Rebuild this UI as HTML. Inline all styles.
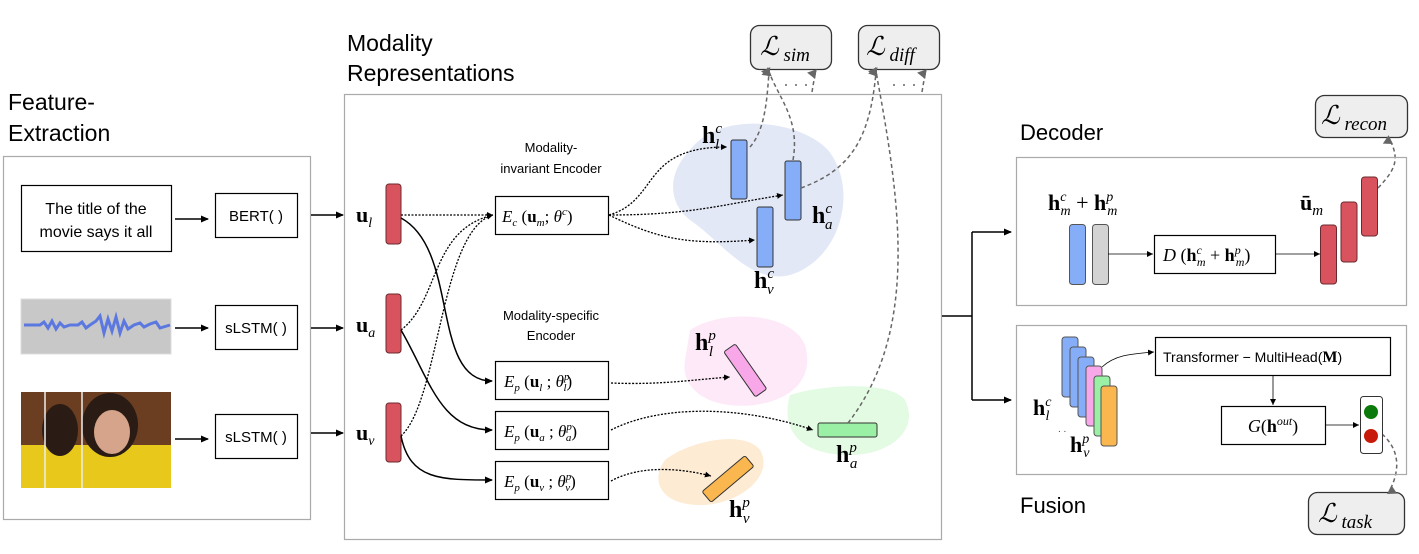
<!DOCTYPE html>
<html><head><meta charset="utf-8"><style>
body{margin:0;background:#fff}
svg{display:block}
text{font-family:"Liberation Sans",sans-serif}
.m,.m *{font-family:"Liberation Serif",serif}
</style></head><body>
<svg width="1419" height="554" viewBox="0 0 1419 554" xmlns="http://www.w3.org/2000/svg">
<defs>
<marker id="a" markerWidth="8" markerHeight="8" refX="7" refY="4" orient="auto" markerUnits="userSpaceOnUse"><path d="M0,0.5 L8,4 L0,7.5z" fill="#000"/></marker>
<marker id="g" markerWidth="10" markerHeight="10" refX="5" refY="9" orient="auto-start-reverse" markerUnits="userSpaceOnUse"><path d="M0,0 L5,9 L10,0z" fill="#666" transform="rotate(180 5 5)"/></marker>
<marker id="s" markerWidth="6" markerHeight="6" refX="6" refY="3" orient="auto" markerUnits="userSpaceOnUse"><path d="M0,0 L6,3 L0,6z" fill="#000"/></marker>
</defs>

<text x="8" y="110" font-size="23">Feature-</text>
<text x="8" y="141" font-size="23">Extraction</text>
<text x="347" y="51" font-size="23">Modality</text>
<text x="347" y="81" font-size="23">Representations</text>
<text x="1020" y="140" font-size="22">Decoder</text>
<text x="1020" y="513" font-size="22">Fusion</text>

<rect x="3.5" y="156.5" width="307" height="363" fill="none" stroke="#aaa" stroke-width="1.2"/>
<rect x="21.5" y="185.5" width="150" height="66" fill="#fff" stroke="#000" stroke-width="1.2"/>
<text x="96" y="214" font-size="16" text-anchor="middle">The title of the</text>
<text x="96" y="237" font-size="16" text-anchor="middle">movie says it all</text>
<rect x="21" y="299" width="150" height="55" fill="#c8c8c8" stroke="#ddd"/>
<path d="M24,325 L40,325 L44,322 L48,328 L52,321 L56,329 L60,323 L64,327 L70,325 L78,325 L82,322 L86,328 L90,325 L96,321 L100,316 L104,333 L108,319 L112,331 L116,317 L120,333 L124,321 L128,329 L134,325 L140,323 L144,327 L150,324 L156,322 L160,328 L170,325" fill="none" stroke="#5b78e0" stroke-width="3"/>
<rect x="21" y="392" width="150" height="96" fill="#6b3e22"/>
<rect x="21" y="445" width="150" height="43" fill="#e8c81a"/>
<ellipse cx="60" cy="430" rx="18" ry="26" fill="#2a1c14"/>
<ellipse cx="110" cy="425" rx="28" ry="32" fill="#2a1c14"/>
<ellipse cx="112" cy="432" rx="18" ry="22" fill="#d6a48a"/>
<line x1="45" y1="392" x2="45" y2="488" stroke="#eee" stroke-width="1.5"/>
<line x1="82" y1="392" x2="82" y2="488" stroke="#eee" stroke-width="1.5"/>
<rect x="215.5" y="193.5" width="82" height="44" fill="#fff" stroke="#000" stroke-width="1.2"/>
<text x="256" y="221" font-size="15" text-anchor="middle">BERT( )</text>
<rect x="215.5" y="305.5" width="82" height="44" fill="#fff" stroke="#000" stroke-width="1.2"/>
<text x="256" y="333" font-size="15" text-anchor="middle">sLSTM( )</text>
<rect x="215.5" y="414.5" width="82" height="44" fill="#fff" stroke="#000" stroke-width="1.2"/>
<text x="256" y="442" font-size="15" text-anchor="middle">sLSTM( )</text>
<g stroke="#000" stroke-width="1.5" marker-end="url(#a)">
<line x1="175" y1="219" x2="208" y2="219"/><line x1="175" y1="328" x2="208" y2="328"/><line x1="175" y1="439" x2="208" y2="439"/>
<line x1="311" y1="215" x2="343" y2="215"/><line x1="311" y1="328" x2="343" y2="328"/><line x1="311" y1="433" x2="343" y2="433"/>
</g>

<rect x="344.5" y="94.5" width="597" height="445" fill="none" stroke="#aaa" stroke-width="1.2"/>
<path d="M690,150 C720,110 800,120 828,150 C860,190 840,260 790,275 C750,285 720,240 690,220 C665,200 670,170 690,150z" fill="#e3e8f7"/>
<path d="M690,330 C720,310 790,310 805,345 C815,380 790,400 755,405 C710,410 680,390 685,360z" fill="#fde9f8"/>
<path d="M790,395 C820,385 890,380 905,400 C920,430 890,455 850,455 C800,455 780,430 790,395z" fill="#e3fae3"/>
<path d="M665,460 C690,440 745,430 760,450 C775,475 740,505 700,505 C660,505 650,480 665,460z" fill="#fdebd3"/>

<g class="m">
<text x="356" y="222" font-size="22" font-weight="bold">u<tspan font-size="14" font-style="italic" font-weight="normal" dy="5">l</tspan></text>
<text x="356" y="332" font-size="22" font-weight="bold">u<tspan font-size="14" font-style="italic" font-weight="normal" dy="5">a</tspan></text>
<text x="356" y="440" font-size="22" font-weight="bold">u<tspan font-size="14" font-style="italic" font-weight="normal" dy="5">v</tspan></text>
</g>
<g fill="#d9535e" stroke="#6b2a2f" stroke-width="1"><rect x="386" y="184" width="15" height="60" rx="3"/><rect x="386" y="294" width="15" height="59" rx="3"/><rect x="386" y="403" width="15" height="59" rx="3"/></g>

<g fill="none" stroke="#000" stroke-width="1.3" stroke-dasharray="2,1.5" marker-end="url(#s)">
<path d="M401,215 L493,215"/>
<path d="M401,330 C440,300 430,230 493,215"/>
<path d="M401,436 C440,400 440,230 493,215"/>
<path d="M609,215 C660,200 640,147 727,147"/>
<path d="M609,215 C690,215 720,205 783,195"/>
<path d="M609,215 C660,240 690,245 755,240"/>
<path d="M611,383 C660,385 690,380 730,377"/>
<path d="M611,430 C660,405 740,405 813,430"/>
<path d="M611,481 C640,465 680,468 711,476"/>
</g>
<g fill="none" stroke="#000" stroke-width="1.5" marker-end="url(#a)">
<path d="M401,218 C460,250 430,381 492,381"/>
<path d="M401,330 C430,380 440,430 492,430"/>
<path d="M401,436 C410,480 440,480 492,480"/>
</g>
<text x="551" y="152" font-size="13" text-anchor="middle">Modality-</text>
<text x="551" y="173" font-size="13" text-anchor="middle">invariant Encoder</text>
<text x="551" y="320" font-size="13" text-anchor="middle">Modality-specific</text>
<text x="551" y="340" font-size="13" text-anchor="middle">Encoder</text>
<rect x="495.5" y="196.5" width="113" height="38" fill="#fff" stroke="#000" stroke-width="1.2"/>
<g class="m">
<text x="502" y="222" font-size="17" font-style="italic">E<tspan font-size="11" dy="4">c</tspan><tspan dy="-4" font-style="normal">  (</tspan><tspan font-weight="bold" font-style="normal">u</tspan><tspan font-size="11" dy="4">m</tspan><tspan dy="-4" font-style="normal">;  </tspan>θ<tspan font-size="11" dy="-7">c</tspan><tspan dy="7" font-style="normal">)</tspan></text>
</g>
<g fill="#fff" stroke="#000" stroke-width="1.2"><rect x="495.5" y="361.5" width="113" height="38"/><rect x="495.5" y="411.5" width="113" height="38"/><rect x="495.5" y="461.5" width="113" height="38"/></g>
<g class="m">
<text x="504" y="387" font-size="17" font-style="italic">E<tspan font-size="11" dy="4">p</tspan><tspan dy="-4" font-style="normal"> (</tspan><tspan font-weight="bold" font-style="normal">u</tspan><tspan font-size="11" dy="4">l</tspan><tspan dy="-4" font-style="normal">  ;  </tspan>θ<tspan font-size="11" dy="-7">p</tspan><tspan font-size="11" dx="-6" dy="11">l</tspan><tspan dy="-4" font-style="normal">)</tspan></text>
<text x="504" y="437" font-size="17" font-style="italic">E<tspan font-size="11" dy="4">p</tspan><tspan dy="-4" font-style="normal"> (</tspan><tspan font-weight="bold" font-style="normal">u</tspan><tspan font-size="11" dy="4">a</tspan><tspan dy="-4" font-style="normal">  ;  </tspan>θ<tspan font-size="11" dy="-7">p</tspan><tspan font-size="11" dx="-6" dy="11">a</tspan><tspan dy="-4" font-style="normal">)</tspan></text>
<text x="504" y="487" font-size="17" font-style="italic">E<tspan font-size="11" dy="4">p</tspan><tspan dy="-4" font-style="normal"> (</tspan><tspan font-weight="bold" font-style="normal">u</tspan><tspan font-size="11" dy="4">v</tspan><tspan dy="-4" font-style="normal">  ;  </tspan>θ<tspan font-size="11" dy="-7">p</tspan><tspan font-size="11" dx="-6" dy="11">v</tspan><tspan dy="-4" font-style="normal">)</tspan></text>
</g>

<g fill="#86adf8" stroke="#333" stroke-width="1"><rect x="731" y="140" width="16" height="59" rx="2"/><rect x="785" y="161" width="16" height="59" rx="2"/><rect x="757" y="207" width="16" height="60" rx="2"/></g>
<rect x="738" y="343" width="14" height="55" rx="2" fill="#f8a8e8" stroke="#333" transform="rotate(-35 745 370)"/>
<rect x="818" y="423" width="59" height="14" rx="2" fill="#9af0a4" stroke="#333"/>
<rect x="700" y="472" width="56" height="14" rx="2" fill="#fbb74f" stroke="#333" transform="rotate(-40 728 479)"/>

<g class="m" font-size="24" font-weight="bold">
<text x="702" y="143">h<tspan font-size="15" font-style="italic" font-weight="normal" dy="-10">c</tspan><tspan font-size="15" font-style="italic" font-weight="normal" dx="-7" dy="16">l</tspan></text>
<text x="812" y="223">h<tspan font-size="15" font-style="italic" font-weight="normal" dy="-10">c</tspan><tspan font-size="15" font-style="italic" font-weight="normal" dx="-7" dy="16">a</tspan></text>
<text x="754" y="288">h<tspan font-size="15" font-style="italic" font-weight="normal" dy="-10">c</tspan><tspan font-size="15" font-style="italic" font-weight="normal" dx="-7" dy="16">v</tspan></text>
<text x="695" y="350">h<tspan font-size="15" font-style="italic" font-weight="normal" dy="-10">p</tspan><tspan font-size="15" font-style="italic" font-weight="normal" dx="-7" dy="16">l</tspan></text>
<text x="836" y="462">h<tspan font-size="15" font-style="italic" font-weight="normal" dy="-10">p</tspan><tspan font-size="15" font-style="italic" font-weight="normal" dx="-7" dy="16">a</tspan></text>
<text x="729" y="517">h<tspan font-size="15" font-style="italic" font-weight="normal" dy="-10">p</tspan><tspan font-size="15" font-style="italic" font-weight="normal" dx="-7" dy="16">v</tspan></text>
</g>

<g fill="#eee" stroke="#333" stroke-width="1.3"><rect x="750.5" y="25.5" width="81" height="44" rx="9"/><rect x="858.5" y="25.5" width="81" height="44" rx="9"/><rect x="1315.5" y="95.5" width="92" height="42" rx="9"/><rect x="1308.5" y="492.5" width="96" height="42" rx="9"/></g>
<g class="m" font-style="italic">
<text x="760" y="55" font-size="26">ℒ<tspan font-size="19" dy="6"> sim</tspan></text>
<text x="866" y="55" font-size="26">ℒ<tspan font-size="19" dy="6"> diff</tspan></text>
<text x="1321" y="124" font-size="26">ℒ<tspan font-size="19" dy="6"> recon</tspan></text>
<text x="1318" y="522" font-size="26">ℒ<tspan font-size="19" dy="6"> task</tspan></text>
</g>
<g fill="none" stroke="#666" stroke-width="1.5" stroke-dasharray="4,3" marker-end="url(#g)">
<path d="M750,147 C765,130 767,100 769,72"/>
<path d="M793,160 C800,120 780,100 769,72"/>
<path d="M801,188 C850,170 870,140 876,72"/>
<path d="M848,423 C920,330 900,200 876,72"/>
<path d="M812,92 L815,74"/><path d="M922,92 L925,74"/>
<path d="M1378,188 C1395,170 1400,160 1390,140"/>
<path d="M1382,434 C1400,450 1400,470 1390,490"/>
</g>
<g fill="#666"><circle cx="786" cy="85" r="1"/><circle cx="796" cy="85" r="1"/><circle cx="806" cy="85" r="1"/><circle cx="894" cy="85" r="1"/><circle cx="904" cy="85" r="1"/><circle cx="914" cy="85" r="1"/></g>

<g stroke="#000" stroke-width="1.5" fill="none">
<line x1="942" y1="316" x2="972" y2="316"/><line x1="972" y1="232" x2="972" y2="400"/>
<line x1="972" y1="232" x2="1011" y2="232" marker-end="url(#a)"/><line x1="972" y1="400" x2="1011" y2="400" marker-end="url(#a)"/>
</g>

<rect x="1016.5" y="157.5" width="390" height="148" fill="none" stroke="#aaa" stroke-width="1.2"/>
<g class="m">
<text x="1048" y="210" font-size="22" font-weight="bold">h<tspan font-size="14" font-style="italic" font-weight="normal" dy="-9">c</tspan><tspan font-size="14" font-style="italic" font-weight="normal" dx="-6" dy="14">m</tspan><tspan dy="-5" font-weight="normal"> + </tspan>h<tspan font-size="14" font-style="italic" font-weight="normal" dy="-9">p</tspan><tspan font-size="14" font-style="italic" font-weight="normal" dx="-6" dy="14">m</tspan></text>
</g>
<rect x="1069.5" y="224.5" width="16" height="60" rx="3" fill="#86adf8" stroke="#555"/>
<rect x="1092.5" y="224.5" width="16" height="60" rx="3" fill="#d3d3d3" stroke="#555"/>
<line x1="1108" y1="254" x2="1153" y2="254" stroke="#000" stroke-width="0.8" marker-end="url(#s)"/>
<rect x="1154.5" y="235.5" width="121" height="38" fill="#fff" stroke="#000" stroke-width="1.2"/>
<g class="m">
<text x="1163" y="261" font-size="18"><tspan font-style="italic">D</tspan> (<tspan font-weight="bold">h</tspan><tspan font-size="12" font-style="italic" dy="-7">c</tspan><tspan font-size="12" font-style="italic" dx="-5" dy="12">m</tspan><tspan dy="-5"> + </tspan><tspan font-weight="bold">h</tspan><tspan font-size="12" font-style="italic" dy="-7">p</tspan><tspan font-size="12" font-style="italic" dx="-5" dy="12">m</tspan><tspan dy="-5">)</tspan></text>
<text x="1300" y="210" font-size="22" font-weight="bold">ū<tspan font-size="15" font-style="italic" font-weight="normal" dy="5">m</tspan></text>
</g>
<line x1="1275" y1="254" x2="1320" y2="254" stroke="#000" stroke-width="0.8" marker-end="url(#s)"/>
<g fill="#d9535e" stroke="#6b2a2f"><rect x="1320.5" y="225" width="16" height="59" rx="3"/><rect x="1341" y="202" width="16" height="60" rx="3"/><rect x="1361.5" y="177" width="16" height="59" rx="3"/></g>

<rect x="1016.5" y="325.5" width="390" height="149" fill="none" stroke="#aaa" stroke-width="1.2"/>
<g stroke="#555" stroke-width="1">
<rect x="1062" y="337" width="16" height="60" rx="3" fill="#86adf8"/>
<rect x="1070" y="347" width="16" height="60" rx="3" fill="#86adf8"/>
<rect x="1078" y="357" width="16" height="60" rx="3" fill="#86adf8"/>
<rect x="1086" y="366" width="16" height="60" rx="3" fill="#f8a8e8"/>
<rect x="1094" y="376" width="16" height="60" rx="3" fill="#9af0a4"/>
<rect x="1101" y="386" width="16" height="60" rx="3" fill="#fbb74f"/>
</g>
<path d="M1102,367 C1115,355 1130,354 1154,352" fill="none" stroke="#000" stroke-width="0.8" marker-end="url(#s)"/>
<g class="m">
<text x="1033" y="415" font-size="22" font-weight="bold">h<tspan font-size="14" font-style="italic" font-weight="normal" dy="-9">c</tspan><tspan font-size="14" font-style="italic" font-weight="normal" dx="-6" dy="14">l</tspan></text>
<text x="1070" y="452" font-size="22" font-weight="bold">h<tspan font-size="14" font-style="italic" font-weight="normal" dy="-9">p</tspan><tspan font-size="14" font-style="italic" font-weight="normal" dx="-6" dy="14">v</tspan></text>
</g>
<text x="1058" y="432" font-size="10" fill="#444">. .</text>
<rect x="1155.5" y="337.5" width="235" height="38" fill="#fff" stroke="#000" stroke-width="1.2"/>
<text x="1163" y="362" font-size="14">Transformer − MultiHead(<tspan font-family="Liberation Serif, serif" font-weight="bold" font-size="16">M</tspan>)</text>
<line x1="1273" y1="375" x2="1273" y2="405" stroke="#000" stroke-width="0.8" marker-end="url(#s)"/>
<rect x="1221.5" y="406.5" width="104" height="38" fill="#fff" stroke="#000" stroke-width="1.2"/>
<g class="m">
<text x="1273" y="432" font-size="18" text-anchor="middle"><tspan font-style="italic">G</tspan>(<tspan font-weight="bold">h</tspan><tspan font-size="12" font-style="italic" dy="-7">out</tspan><tspan dy="7">)</tspan></text>
</g>
<line x1="1325" y1="425" x2="1359" y2="425" stroke="#000" stroke-width="0.8" marker-end="url(#s)"/>
<rect x="1360.5" y="396.5" width="22" height="57" rx="3" fill="#fff" stroke="#333"/>
<circle cx="1371" cy="412" r="7" fill="#0a7a0a"/>
<circle cx="1371" cy="436" r="7" fill="#c81a0a"/>
</svg>
</body></html>
